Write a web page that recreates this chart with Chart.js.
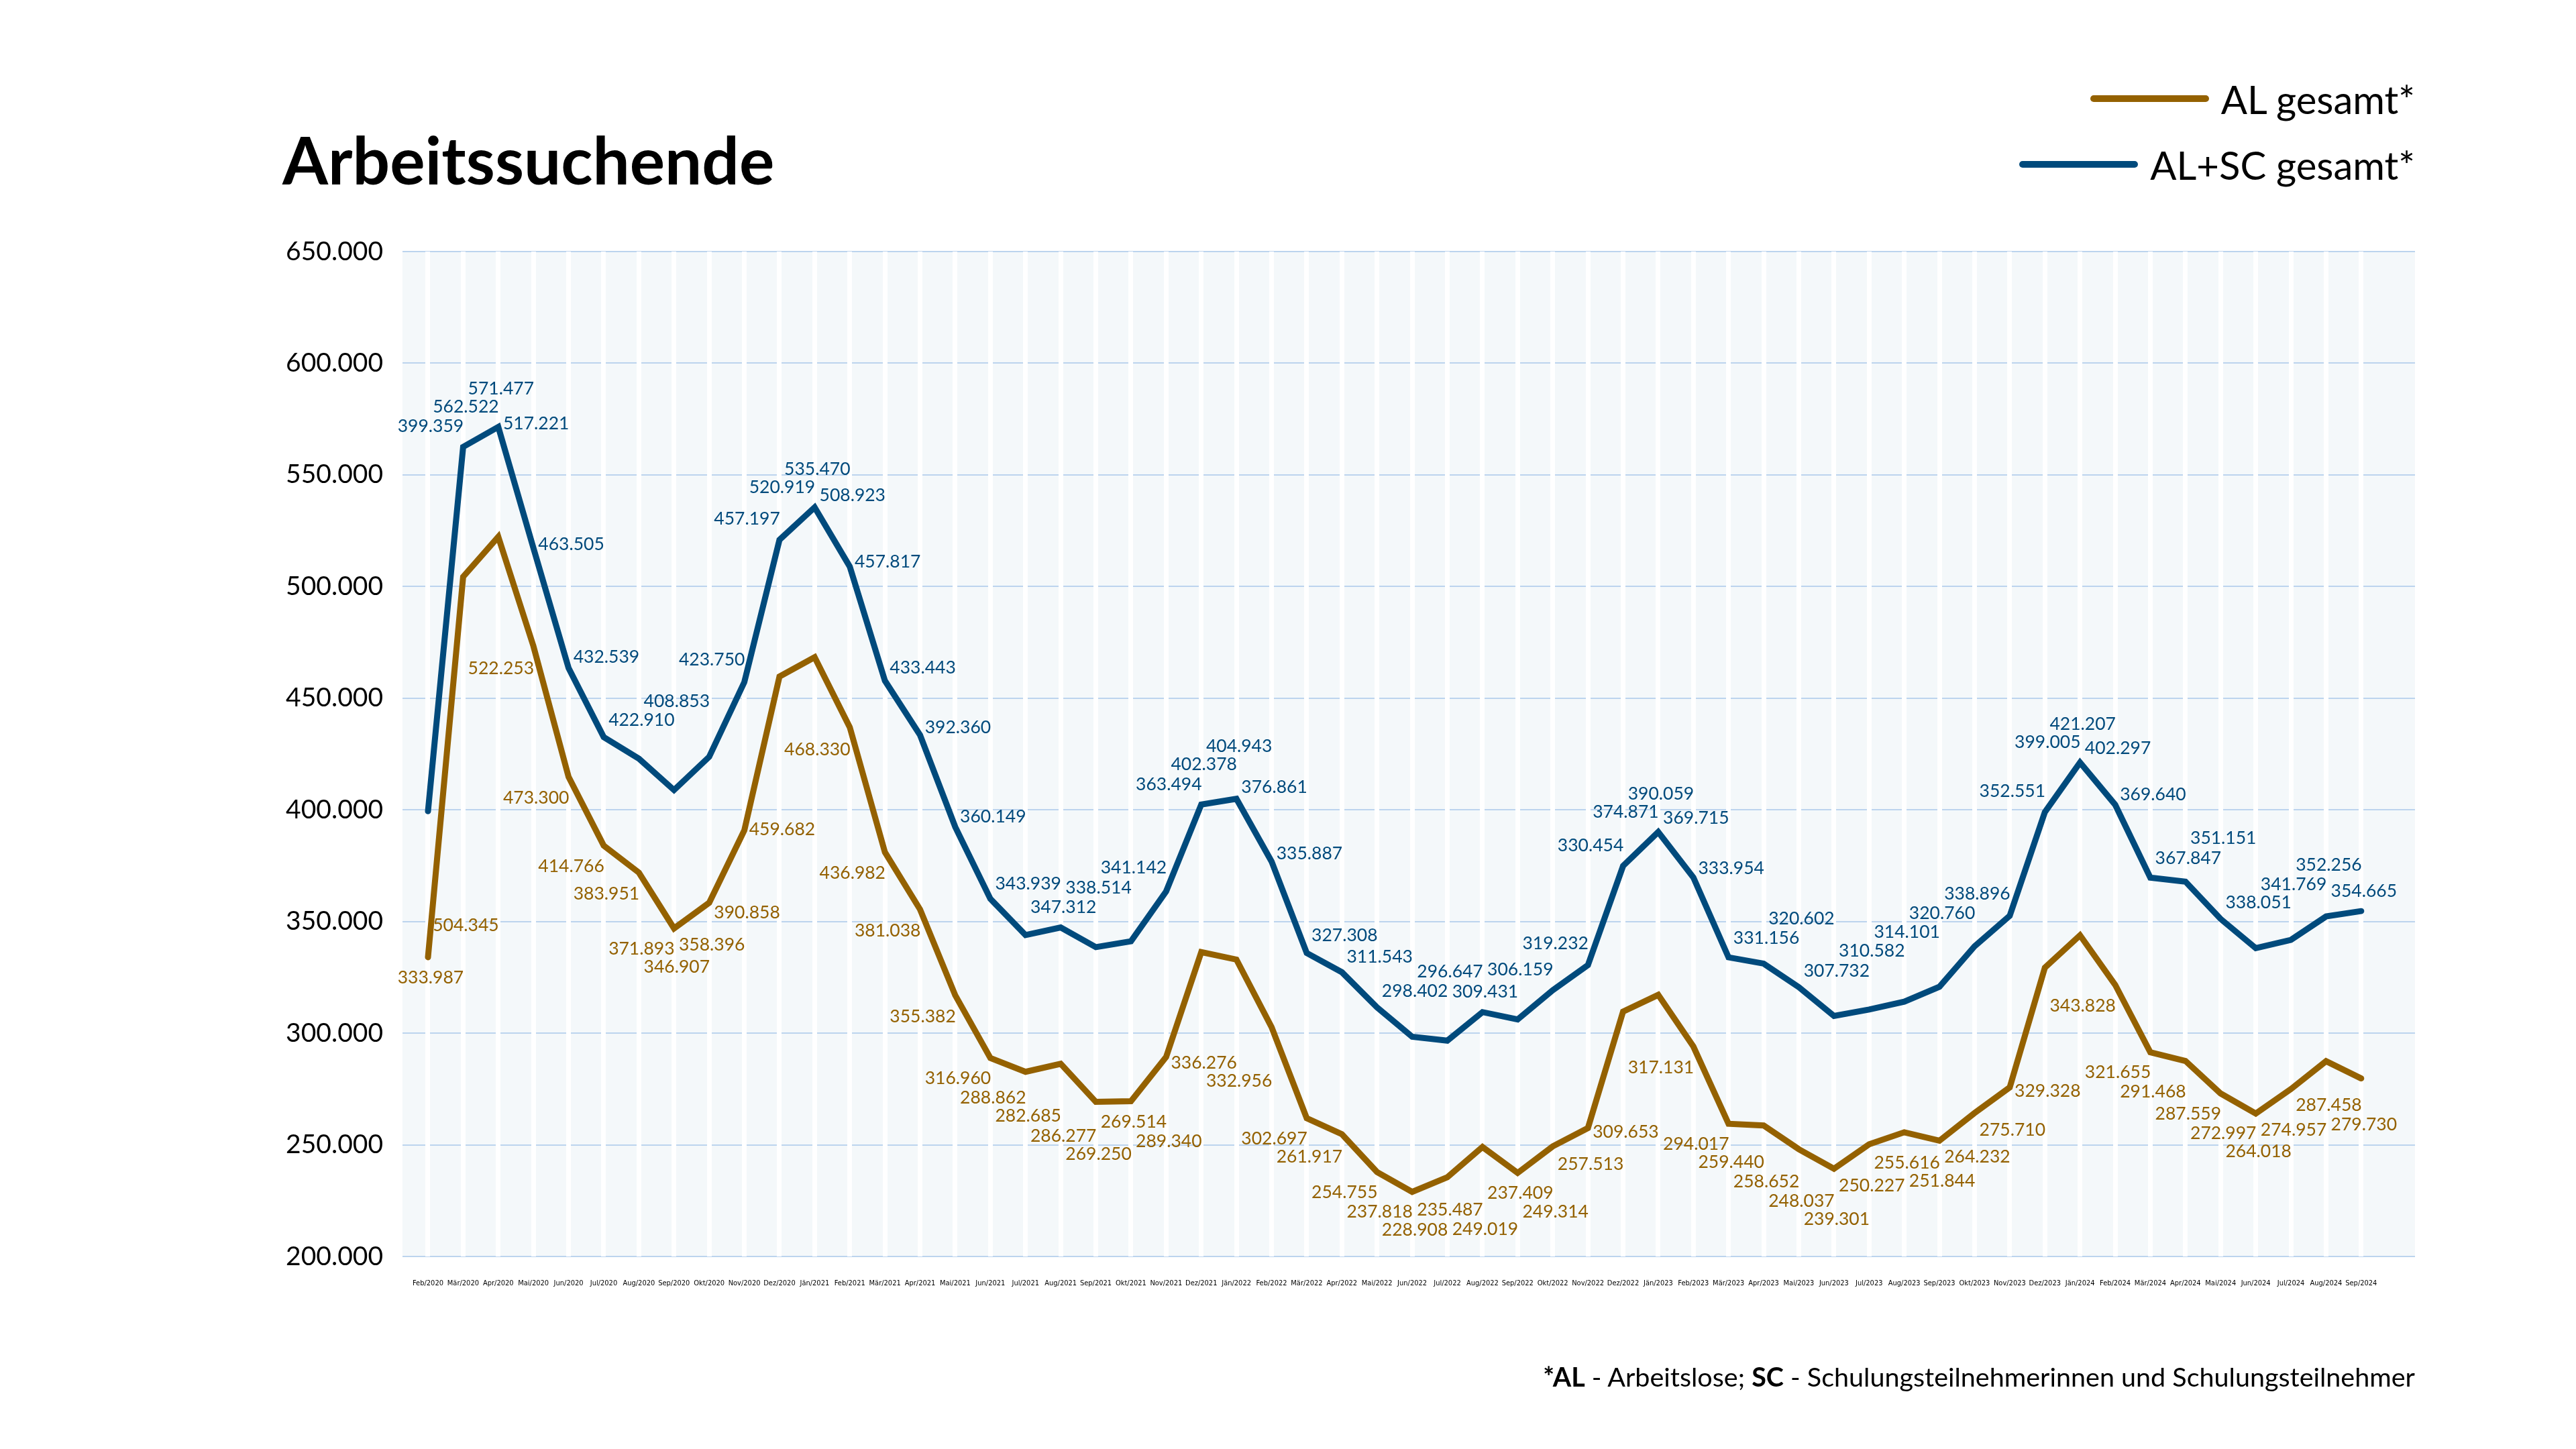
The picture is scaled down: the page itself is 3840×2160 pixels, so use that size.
<!DOCTYPE html>
<html lang="de">
<head>
<meta charset="utf-8">
<title>Arbeitssuchende</title>
<script src="https://cdn.jsdelivr.net/npm/chart.js@4.4.1/dist/chart.umd.min.js"></script>
<style>
  body { margin: 0; background: #fff; font-family: Lato, sans-serif; }
  #wrap { position: relative; width: 3840px; height: 2160px; }
  #dataChart { position: absolute; left: 0; top: 0; }
  .title { position: absolute; left: 421px; top: 186px; font-size: 98px; line-height: 102px; font-weight: 700; color: #000; }
  .legend-row { position: absolute; right: 240px; display: flex; align-items: center; height: 70px; font-size: 58px; color: #000; }
  .legend-row .swatch { width: 177px; height: 10px; border-radius: 5px; margin-right: 18px; }
  .note { position: absolute; right: 240px; top: 2027px; font-size: 39.5px; line-height: 50px; color: #000; }
</style>
</head>
<body>
<div id="wrap">
  <canvas id="dataChart" width="3840" height="2160"></canvas>
  <div class="title">Arbeitssuchende</div>
  <div class="legend-row" style="top:112px"><span class="swatch" style="background:#946100"></span>AL gesamt*</div>
  <div class="legend-row" style="top:210px"><span class="swatch" style="background:#004a7c"></span>AL+SC gesamt*</div>
  <div class="note"><b>*AL</b> - Arbeitslose; <b>SC</b> - Schulungsteilnehmerinnen und Schulungsteilnehmer</div>
</div>
<script>
const months = [
    'Feb/2020', 'Mär/2020', 'Apr/2020', 'Mai/2020', 'Jun/2020', 'Jul/2020', 'Aug/2020', 'Sep/2020', 'Okt/2020', 'Nov/2020', 'Dez/2020',
    'Jän/2021', 'Feb/2021', 'Mär/2021', 'Apr/2021', 'Mai/2021', 'Jun/2021', 'Jul/2021', 'Aug/2021', 'Sep/2021', 'Okt/2021', 'Nov/2021', 'Dez/2021',
    'Jän/2022', 'Feb/2022', 'Mär/2022', 'Apr/2022', 'Mai/2022', 'Jun/2022', 'Jul/2022', 'Aug/2022', 'Sep/2022', 'Okt/2022', 'Nov/2022', 'Dez/2022',
    'Jän/2023', 'Feb/2023', 'Mär/2023', 'Apr/2023', 'Mai/2023', 'Jun/2023', 'Jul/2023', 'Aug/2023', 'Sep/2023', 'Okt/2023', 'Nov/2023', 'Dez/2023',
    'Jän/2024', 'Feb/2024', 'Mär/2024', 'Apr/2024', 'Mai/2024', 'Jun/2024', 'Jul/2024', 'Aug/2024', 'Sep/2024'
];

// AL gesamt*
const alGesamt = [
    333987, 504345, 522253, 473300, 414766, 383951, 371893, 346907, 358396, 390858, 459682,
    468330, 436982, 381038, 355382, 316960, 288862, 282685, 286277, 269250, 269514, 289340, 336276,
    332956, 302697, 261917, 254755, 237818, 228908, 235487, 249019, 237409, 249314, 257513, 309653,
    317131, 294017, 259440, 258652, 248037, 239301, 250227, 255616, 251844, 264232, 275710, 329328,
    343828, 321655, 291468, 287559, 272997, 264018, 274957, 287458, 279730
];

// AL+SC gesamt*
const alScGesamt = [
    399359, 562522, 571477, 517221, 463505, 432539, 422910, 408853, 423750, 457197, 520919,
    535470, 508923, 457817, 433443, 392360, 360149, 343939, 347312, 338514, 341142, 363494, 402378,
    404943, 376861, 335887, 327308, 311543, 298402, 296647, 309431, 306159, 319232, 330454, 374871,
    390059, 369715, 333954, 331156, 320602, 307732, 310582, 314101, 320760, 338896, 352551, 399005,
    421207, 402297, 369640, 367847, 351151, 338051, 341769, 352256, 354665
];

const yTicks = [200000, 250000, 300000, 350000, 400000, 450000, 500000, 550000, 600000, 650000];

const fmt = new Intl.NumberFormat('de-DE');
const ctx = document.getElementById('dataChart').getContext('2d');

// light plot background behind the grid
const plotBackground = {
    id: 'plotBackground',
    beforeDraw(chart) {
        const a = chart.chartArea;
        chart.ctx.save();
        chart.ctx.fillStyle = '#f4f8fa';
        chart.ctx.fillRect(a.left, a.top, a.right - a.left, a.bottom - a.top);
        chart.ctx.restore();
    }
};

// highest (dir -1) or lowest (dir 1) pixel of a line between x0 and x1
function lineEdge(points, x0, x1, dir) {
    let edge = null;
    for (let i = 0; i < points.length - 1; i++) {
        const p = points[i], q = points[i + 1];
        if (q.x < x0 || p.x > x1) continue;
        [Math.max(p.x, x0), Math.min(q.x, x1)].forEach(x => {
            const y = p.y + (q.y - p.y) * (x - p.x) / (q.x - p.x);
            if (edge === null || (dir < 0 ? y < edge : y > edge)) edge = y;
        });
    }
    return edge;
}

// value labels placed clear of their own line and of earlier labels
const valueLabels = {
    id: 'valueLabels',
    afterDatasetsDraw(chart) {
        const c = chart.ctx;
        c.save();
        c.font = '26.5px Lato';
        c.textAlign = 'center';
        c.textBaseline = 'middle';
        const h = 27;
        chart.data.datasets.forEach((ds, di) => {
            const meta = chart.getDatasetMeta(di);
            const dir = ds.labelSide;
            const placed = [];
            meta.data.forEach((pt, i) => {
                const text = fmt.format(ds.data[i].y);
                const w = c.measureText(text).width;
                const x = pt.x + 4;
                const edge = lineEdge(meta.data, x - w / 2, x + w / 2, dir);
                let y = edge + dir * (ds.borderWidth / 2 + 12 + h / 2);
                let hit = true;
                while (hit) {
                    hit = false;
                    for (const b of placed) {
                        if (Math.abs(b.x - x) < (b.w + w) / 2 + 4 && Math.abs(b.y - y) < h) {
                            y += dir * 3;
                            hit = true;
                        }
                    }
                }
                placed.push({ x, y, w });
                c.fillStyle = ds.borderColor;
                c.fillText(text, x, y);
            });
        });
        c.restore();
    }
};

const chart = new Chart(ctx, {
    type: 'line',
    data: {
        datasets: [
            {
                label: 'AL+SC gesamt*',
                data: alScGesamt.map((v, i) => ({ x: i, y: v })),
                borderColor: '#004a7c',
                backgroundColor: '#004a7c',
                borderWidth: 9,
                borderCapStyle: 'round',
                pointRadius: 0,
                tension: 0,
                labelSide: -1
            },
            {
                label: 'AL gesamt*',
                data: alGesamt.map((v, i) => ({ x: i, y: v })),
                borderColor: '#946100',
                backgroundColor: '#946100',
                borderWidth: 9,
                borderCapStyle: 'round',
                pointRadius: 0,
                tension: 0,
                labelSide: 1
            }
        ]
    },
    options: {
        responsive: false,
        animation: false,
        devicePixelRatio: 1,
        layout: {
            padding: { top: 375, right: 240, left: 0, bottom: 0 }
        },
        plugins: {
            legend: { display: false },
            tooltip: { enabled: false }
        },
        scales: {
            x: {
                type: 'linear',
                min: -0.725,
                max: 56.53,
                afterBuildTicks: (scale) => {
                    scale.ticks = months.map((m, i) => ({ value: i }));
                },
                afterFit: (scale) => { scale.height = 2160 - 1873; },
                grid: { color: '#ffffff', lineWidth: 7, drawTicks: false, z: -1 },
                border: { display: false },
                ticks: {
                    autoSkip: false,
                    maxRotation: 0,
                    padding: 34,
                    color: '#000',
                    font: { family: 'DejaVu Sans Condensed', size: 11 },
                    callback: (v) => months[v] ?? ''
                }
            },
            y: {
                min: yTicks[0],
                max: yTicks[yTicks.length - 1],
                afterBuildTicks: (scale) => {
                    scale.ticks = yTicks.map(v => ({ value: v }));
                },
                afterFit: (scale) => { scale.width = 600; },
                grid: { color: '#bcd4ee', lineWidth: 2, drawTicks: false, z: -2 },
                border: { display: false },
                ticks: {
                    padding: 29,
                    color: '#000',
                    font: { family: 'Lato', size: 39 },
                    callback: (v) => fmt.format(v)
                }
            }
        }
    },
    plugins: [plotBackground, valueLabels]
});
</script>
</body>
</html>
